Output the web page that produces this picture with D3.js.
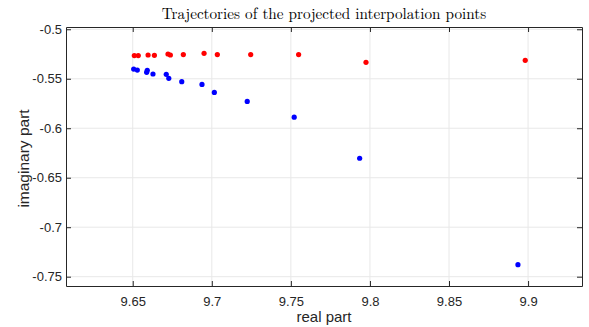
<!DOCTYPE html>
<html>
<head>
<meta charset="utf-8">
<script src="https://cdn.jsdelivr.net/npm/d3@7/dist/d3.min.js"></script>
<style>
  html, body { margin: 0; padding: 0; background: #fff; }
  svg { display: block; }
</style>
</head>
<body>
<svg id="chart" width="589" height="327"></svg>
<script>
// Projected interpolation points: real and imaginary parts
const redRe = [9.6510, 9.6535, 9.6597, 9.6637, 9.6723, 9.6738, 9.6820, 9.6951, 9.7035, 9.7246, 9.7549, 9.7975, 9.8982];
const redIm = [-0.5266, -0.5266, -0.5260, -0.5263, -0.5250, -0.5260, -0.5256, -0.5243, -0.5256, -0.5256, -0.5256, -0.5334, -0.5314];
const blueRe = [9.6506, 9.6529, 9.6588, 9.6592, 9.6628, 9.6712, 9.6728, 9.6810, 9.6938, 9.7016, 9.7224, 9.7521, 9.7935, 9.8936];
const blueIm = [-0.5402, -0.5412, -0.5435, -0.5415, -0.5452, -0.5455, -0.5496, -0.5529, -0.5557, -0.5638, -0.5729, -0.5888, -0.6303, -0.7379];

const xTicks = [9.65, 9.7, 9.75, 9.8, 9.85, 9.9];
const yTicks = [-0.5, -0.55, -0.6, -0.65, -0.7, -0.75];
const xTickLabels = ["9.65", "9.7", "9.75", "9.8", "9.85", "9.9"];
const yTickLabels = ["-0.5", "-0.55", "-0.6", "-0.65", "-0.7", "-0.75"];
const xDomain = [9.6078, 9.9341];
const yDomain = [-0.7594, -0.4977];

const title = "Trajectories of the projected interpolation points";
const xLabel = "real part";
const yLabel = "imaginary part";

const plot = { left: 66, right: 582, top: 27, bottom: 286 };
const axisColor = "#262626";
const gridColor = "#e8e8e8";
const sans = "'Liberation Sans', Arial, Helvetica, sans-serif";

const svg = d3.select("#chart");
const x = d3.scaleLinear().domain(xDomain).range([plot.left, plot.right]);
const y = d3.scaleLinear().domain(yDomain).range([plot.bottom, plot.top]);

// grid
const grid = svg.append("g");
grid.selectAll("line.gx").data(xTicks).join("line")
  .attr("x1", d => x(d)).attr("x2", d => x(d))
  .attr("y1", plot.top).attr("y2", plot.bottom)
  .attr("stroke", gridColor).attr("stroke-width", 1);
grid.selectAll("line.gy").data(yTicks).join("line")
  .attr("y1", d => y(d)).attr("y2", d => y(d))
  .attr("x1", plot.left).attr("x2", plot.right)
  .attr("stroke", gridColor).attr("stroke-width", 1);

// axes with inward ticks
const tickLen = 5;
function styleAxis(g) {
  g.select(".domain").attr("stroke", axisColor);
  g.selectAll(".tick line").attr("stroke", axisColor);
  g.selectAll(".tick text").attr("fill", axisColor)
    .style("font-family", sans).style("font-size", "13px");
}
svg.append("g").attr("transform", `translate(0,${plot.bottom})`)
  .call(d3.axisBottom(x).tickValues(xTicks).tickFormat((d, i) => xTickLabels[i])
    .tickSizeInner(-tickLen).tickSizeOuter(0).tickPadding(11))
  .call(styleAxis);
svg.append("g").attr("transform", `translate(0,${plot.top})`)
  .call(d3.axisTop(x).tickValues(xTicks).tickFormat("")
    .tickSizeInner(-tickLen).tickSizeOuter(0))
  .call(styleAxis);
svg.append("g").attr("transform", `translate(${plot.left},0)`)
  .call(d3.axisLeft(y).tickValues(yTicks).tickFormat((d, i) => yTickLabels[i])
    .tickSizeInner(-tickLen).tickSizeOuter(0).tickPadding(4))
  .call(styleAxis);
svg.append("g").attr("transform", `translate(${plot.right},0)`)
  .call(d3.axisRight(y).tickValues(yTicks).tickFormat("")
    .tickSizeInner(-tickLen).tickSizeOuter(0))
  .call(styleAxis);

// points
function drawSeries(re, im, color) {
  svg.append("g").selectAll("circle").data(re.map((v, i) => [v, im[i]])).join("circle")
    .attr("cx", d => x(d[0])).attr("cy", d => y(d[1]))
    .attr("r", 2.6).attr("fill", color);
}
drawSeries(redRe, redIm, "#ff0000");
drawSeries(blueRe, blueIm, "#0000ff");

// labels
svg.append("text").attr("x", (plot.left + plot.right) / 2).attr("y", 18.5)
  .attr("text-anchor", "middle")
  .style("font-family", "'Latin Modern Roman', 'CMU Serif', 'DejaVu Serif', serif")
  .style("font-size", "15.2px").attr("fill", "#000").text(title);
svg.append("text").attr("x", (plot.left + plot.right) / 2).attr("y", 321.5)
  .attr("text-anchor", "middle").style("font-family", sans).style("font-size", "15px")
  .attr("fill", axisColor).text(xLabel);
svg.append("text").attr("transform", `translate(29,${(plot.top + plot.bottom) / 2 + 2}) rotate(-90)`)
  .attr("text-anchor", "middle").style("font-family", sans).style("font-size", "15.5px")
  .attr("fill", axisColor).text(yLabel);
</script>
</body>
</html>
